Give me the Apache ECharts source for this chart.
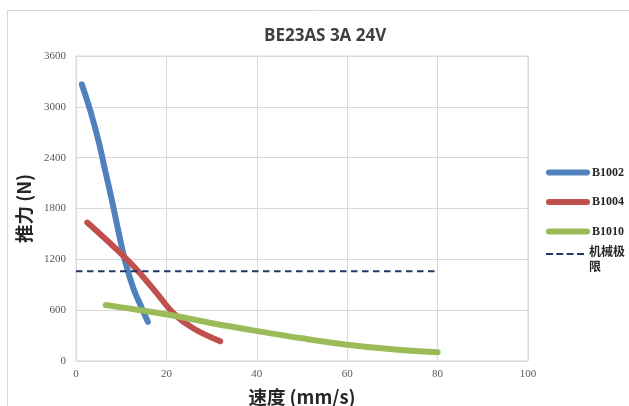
<!DOCTYPE html>
<html>
<head>
<meta charset="utf-8">
<script src="https://cdn.jsdelivr.net/npm/echarts@6/dist/echarts.min.js"></script>
<style>html,body{margin:0;padding:0;background:#fff}#c{width:629px;height:406px}</style>
</head>
<body>
<div id="c"></div>
<script>
const titleText = "BE23AS 3A 24V";
const xName = "速度 (mm/s)";
const yName = "推力 (N)";
const seriesNames = ["B1002", "B1004", "B1010", "机械极限"];
const legendLabels = ["B1002", "B1004", "B1010", "机械极\n限"];
const b1002 = [[1.3,3264],[3.2,2948],[5.0,2593],[6.5,2238],[8.0,1883],[9.4,1527],[10.9,1172],[12.7,857],[14.6,620],[15.9,462]];
const b1004 = [[2.5,1634],[9.1,1311],[13.5,1074],[17.9,798],[21.6,561],[26.0,384],[31.9,233]];
const b1010 = [[6.6,660],[14.2,600],[22.3,529],[30.4,443],[40.5,350],[50,268],[60,192],[70,140],[80,103]];
const limitLine = [[0,1060],[80,1060]];
const xTicks = [0,20,40,60,80,100];
const yTicks = [0,600,1200,1800,2400,3000,3600];

const chart = echarts.init(document.getElementById('c'));
const colors = ['#4f81bd','#c0504d','#9bbb59','#1f3864'];
function curve(name, data, color){
  return {name, type:'line', data, smooth:0.35, showSymbol:false, symbol:'none',
    lineStyle:{color, width:6, cap:'round', join:'round'}, itemStyle:{color}};
}
const dashIcon = 'path://M0,0h7v2h-7z M10.3,0h7v2h-7z M20.6,0h7v2h-7z M31,0h7v2h-7z M0,13.9h0.1v0.1h-0.1z';
const legendText = {fontFamily:'Liberation Serif, Noto Sans CJK SC', fontWeight:'bold', fontSize:12, color:'#262626', lineHeight:15};
chart.setOption({
  animation:false,
  title:{text:titleText, left:259, top:23, textStyle:{fontFamily:'Open Sans', fontWeight:'bold', fontSize:17, color:'#404040'}},
  graphic:[{type:'rect', shape:{x:7.5,y:10.5,width:700,height:500}, style:{fill:'none', stroke:'#d9d9d9', lineWidth:1}, silent:true}],
  grid:{left:76, right:101, top:56, bottom:45, show:true, borderColor:'#d9d9d9', borderWidth:1, containLabel:false, outerBoundsMode:'none'},
  legend:[
    {orient:'vertical', left:546, top:165, padding:0, itemWidth:38, itemHeight:14, itemGap:14.5,
      itemStyle:{opacity:0},
      textStyle:legendText,
      data:[
        {name:seriesNames[0], lineStyle:{width:6, cap:'round'}},
        {name:seriesNames[1], lineStyle:{width:6, cap:'round'}},
        {name:seriesNames[2], lineStyle:{width:6, cap:'round'}}
      ]},
    {orient:'vertical', left:546, top:245, padding:0, itemWidth:38, itemHeight:14,
      symbolKeepAspect:false,
      formatter:name=>legendLabels[seriesNames.indexOf(name)],
      textStyle:legendText,
      data:[{name:seriesNames[3], icon:dashIcon, itemStyle:{color:colors[3]}}]}
  ],
  xAxis:{type:'value', min:0, max:100, interval:20, name:xName, nameLocation:'middle', nameGap:27,
    nameTextStyle:{fontFamily:'Noto Sans CJK SC', fontWeight:'bold', fontSize:18.5, color:'#262626'},
    axisLine:{show:false}, axisTick:{show:false},
    axisLabel:{fontFamily:'Liberation Serif', fontSize:11, color:'#595959', margin:8, formatter:v=>xTicks.includes(v)?String(v):''},
    splitLine:{show:true, lineStyle:{color:'#d9d9d9', width:1}}},
  yAxis:{type:'value', min:0, max:3600, interval:600, name:yName, nameLocation:'middle', nameGap:43, nameRotate:90,
    nameTextStyle:{fontFamily:'Noto Sans CJK SC', fontWeight:'bold', fontSize:18.5, color:'#262626'},
    axisLine:{show:false}, axisTick:{show:false},
    axisLabel:{fontFamily:'Liberation Serif', fontSize:11, color:'#595959', margin:10, formatter:v=>yTicks.includes(v)?String(v):''},
    splitLine:{show:true, lineStyle:{color:'#d9d9d9', width:1}}},
  series:[
    curve(seriesNames[0], b1002, colors[0]),
    curve(seriesNames[1], b1004, colors[1]),
    curve(seriesNames[2], b1010, colors[2]),
    {name:seriesNames[3], type:'line', data:limitLine, showSymbol:false, symbol:'none',
      lineStyle:{color:colors[3], width:2, type:[6.5,4.5]}, itemStyle:{color:colors[3]}}
  ]
});
</script>
</body>
</html>
